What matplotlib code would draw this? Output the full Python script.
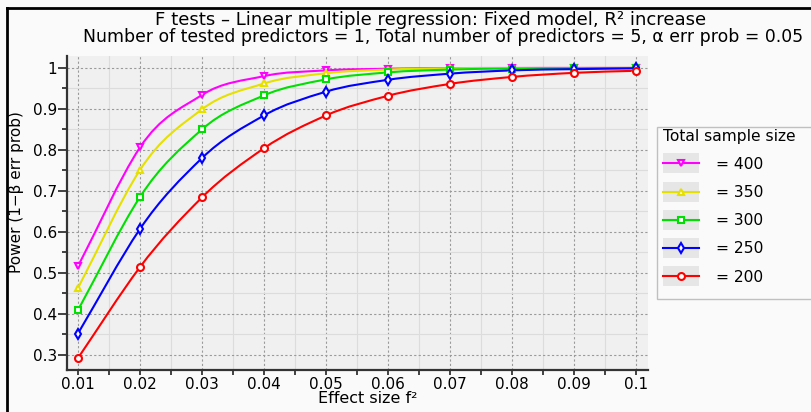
import numpy as np
import matplotlib.pyplot as plt
from matplotlib.path import Path
from matplotlib.patches import PathPatch, Rectangle
from matplotlib.lines import Line2D
from matplotlib.legend_handler import HandlerLine2D
from matplotlib.ticker import MultipleLocator

# Effect sizes f² on the x axis
effect_size = [0.01, 0.02, 0.03, 0.04, 0.05, 0.06, 0.07, 0.08, 0.09, 0.10]

# Power (1-β) for each total sample size
power_400 = [0.516, 0.806, 0.934, 0.980, 0.994, 0.998, 0.9995, 0.9999, 1.0, 1.0]
power_350 = [0.463, 0.751, 0.899, 0.962, 0.987, 0.996, 0.999, 0.9997, 0.9999, 1.0]
power_300 = [0.409, 0.685, 0.850, 0.933, 0.972, 0.989, 0.996, 0.9985, 0.9995, 0.9998]
power_250 = [0.352, 0.607, 0.780, 0.884, 0.942, 0.971, 0.986, 0.994, 0.997, 0.999]
power_200 = [0.292, 0.514, 0.684, 0.804, 0.884, 0.932, 0.961, 0.978, 0.988, 0.993]

sample_sizes = [400, 350, 300, 250, 200]
series = [power_400, power_350, power_300, power_250, power_200]
colors = ['#ff00ff', '#e6e000', '#00e000', '#0000ff', '#ff0000']
markers = ['v', '^', 's', 'd', 'o']

plt.rcParams['font.family'] = ['DejaVu Sans']


def smooth_path(x, y, lean=0.62):
    # cubic Bezier segments through the points; tangents lean a little towards
    # the left-hand chord so the first stretch stays fairly straight
    x = np.asarray(x, float)
    y = np.asarray(y, float)
    h = np.diff(x)
    d = np.diff(y) / h
    m = np.empty(len(x))
    m[0], m[-1] = d[0], d[-1]
    m[1:-1] = lean * d[:-1] + (1 - lean) * d[1:]
    verts = [(x[0], y[0])]
    codes = [Path.MOVETO]
    for i in range(len(x) - 1):
        verts += [(x[i] + h[i] / 3, y[i] + m[i] * h[i] / 3),
                  (x[i + 1] - h[i] / 3, y[i + 1] - m[i + 1] * h[i] / 3),
                  (x[i + 1], y[i + 1])]
        codes += [Path.CURVE4] * 3
    return Path(verts, codes)


class BoxedHandler(HandlerLine2D):
    # legend sample drawn on a grey swatch
    def create_artists(self, legend, orig_handle, xdescent, ydescent,
                       width, height, fontsize, trans):
        artists = super().create_artists(legend, orig_handle, xdescent, ydescent,
                                         width, height, fontsize, trans)
        box = Rectangle((-xdescent, -ydescent - 0.42 * height), width, height * 1.84,
                        facecolor='#e6e6e6', edgecolor='none', transform=trans)
        return [box] + list(artists)


fig = plt.figure(figsize=(8.11, 4.12), dpi=100, facecolor='#fafafa')
ax = fig.add_axes([0.0826, 0.1019, 0.7158, 0.7621])
ax.set_facecolor('#f0f0f0')

handles = []
for n, p, c, mk in zip(sample_sizes, series, colors, markers):
    ax.add_patch(PathPatch(smooth_path(effect_size, p), facecolor='none',
                           edgecolor=c, lw=1.5, zorder=3))
    ax.plot(effect_size, p, linestyle='none', marker=mk, markersize=5,
            markerfacecolor='white', markeredgecolor=c, markeredgewidth=1.5, zorder=4)
    handles.append(Line2D([], [], color=c, lw=1.5, marker=mk, markersize=5,
                          markerfacecolor='white', markeredgecolor=c,
                          markeredgewidth=1.5, label=f'= {n}'))

ax.set_xlim(0.00823, 0.10185)
ax.set_ylim(0.263, 1.029)
ax.xaxis.set_major_locator(MultipleLocator(0.01))
ax.xaxis.set_minor_locator(MultipleLocator(0.005))
ax.yaxis.set_major_locator(MultipleLocator(0.1))
ax.yaxis.set_minor_locator(MultipleLocator(0.05))
ax.xaxis.set_major_formatter(lambda v, pos: f'{v:.2f}' if v < 0.095 else '0.1')
ax.yaxis.set_major_formatter(lambda v, pos: '1' if abs(v - 1) < 1e-9 else f'{v:.1f}')

ax.grid(True, which='major', color='#9a9a9a', lw=0.8, linestyle=(0, (2, 2)), zorder=0)
ax.grid(True, which='minor', color='#dcdcdc', lw=0.8, zorder=0)
ax.set_axisbelow(True)

for side in ('top', 'right'):
    ax.spines[side].set_visible(False)
for side in ('left', 'bottom'):
    ax.spines[side].set_color('#333333')
    ax.spines[side].set_linewidth(1.6)
ax.tick_params(which='both', width=1.3, color='#333333', labelsize=11)
ax.tick_params(axis='x', which='major', length=3.8, pad=1)
ax.tick_params(axis='x', which='minor', length=3.5)
ax.tick_params(axis='y', which='major', length=6.5, pad=0.5)
ax.tick_params(axis='y', which='minor', length=3.6)

ax.set_xlabel('Effect size f²', fontsize=11.5)
ax.xaxis.set_label_coords(0.518, -0.068)
ax.set_ylabel('Power (1−β err prob)', fontsize=11)
ax.yaxis.set_label_coords(-0.074, 0.567)

fig.text(0.531, 0.9405, 'F tests – Linear multiple regression: Fixed model, R² increase',
         ha='center', va='baseline', fontsize=13.1)
fig.text(0.102, 0.8990,
         'Number of tested predictors = 1, Total number of predictors = 5, α err prob = 0.05',
         ha='left', va='baseline', fontsize=12.45)

# legend frame runs past the right edge
fig.add_artist(Rectangle((657 / 811, 1 - 299 / 412), 175 / 811, 172 / 412,
                         transform=fig.transFigure, facecolor='#fafafa',
                         edgecolor='#c0c0c0', lw=1.0, zorder=1))
leg = fig.legend(handles=handles, handler_map={Line2D: BoxedHandler()},
                 title='Total sample size', title_fontsize=11.2, fontsize=11.2,
                 loc='upper left', bbox_to_anchor=(0.81, 0.703), alignment='left',
                 frameon=False, handlelength=2.3, handletextpad=1.1,
                 labelspacing=0.85, borderpad=0.4, borderaxespad=0)
leg.set_zorder(2)

# thin black frame along the top and left edges
fig.add_artist(Line2D([0.0092, 0.0092], [0.0, 0.98], transform=fig.transFigure,
                      color='black', lw=2))
fig.add_artist(Line2D([0.0092, 1.0], [0.98, 0.98], transform=fig.transFigure,
                      color='black', lw=2))

fig.savefig('out.png', dpi=100, facecolor=fig.get_facecolor())
